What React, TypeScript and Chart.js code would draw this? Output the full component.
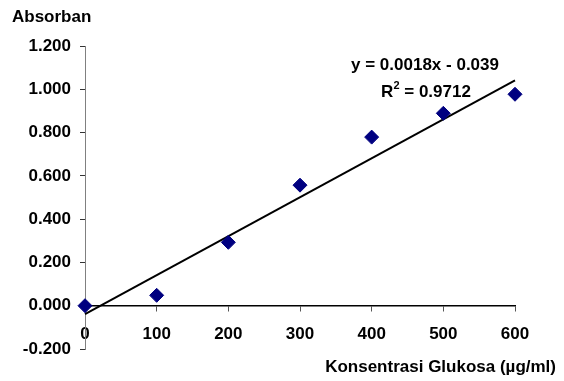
import React, { useEffect, useRef } from "react";
import { Chart, registerables } from "chart.js";

Chart.register(...registerables);

const concentrations = [0, 100, 200, 300, 400, 500, 600];
const absorbances = [0.0, 0.048, 0.293, 0.557, 0.779, 0.889, 0.977];
const trendSlope = 0.0018;
const trendIntercept = -0.039;
const trendX = [0, 600];
const equationText = "y = 0.0018x - 0.039";
const rSquaredText = "0.9712";
const yTitle = "Absorban";
const xTitle = "Konsentrasi Glukosa (µg/ml)";

const FONT = "'Liberation Sans', Arial, sans-serif";
const FS = 17;

const textPlugin = {
  id: "extraText",
  afterDraw(chart: any) {
    const ctx = chart.ctx;
    ctx.save();
    ctx.fillStyle = "#000";
    ctx.font = `bold ${FS}px ${FONT}`;
    ctx.textBaseline = "middle";
    ctx.textAlign = "left";
    ctx.fillText(yTitle, 12, 17);
    ctx.textAlign = "right";
    ctx.fillText(xTitle, 556, 367);
    // equation
    ctx.textAlign = "center";
    ctx.fillText(equationText, 425, 65);
    const rPart = "R";
    const eqPart = " = " + rSquaredText;
    const wR = ctx.measureText(rPart).width;
    ctx.font = `bold 11px ${FONT}`;
    const wSup = ctx.measureText("2").width;
    ctx.font = `bold ${FS}px ${FONT}`;
    const wEq = ctx.measureText(eqPart).width;
    const total = wR + wSup + wEq;
    const x0 = 426 - total / 2;
    ctx.textAlign = "left";
    ctx.fillText(rPart, x0, 92);
    ctx.font = `bold 11px ${FONT}`;
    ctx.fillText("2", x0 + wR, 86);
    ctx.font = `bold ${FS}px ${FONT}`;
    ctx.fillText(eqPart, x0 + wR + wSup, 92);
    ctx.restore();
  },
};

export default function App() {
  const ref = useRef<HTMLCanvasElement | null>(null);
  useEffect(() => {
    if (!ref.current) return;
    const chart = new Chart(ref.current, {
      type: "scatter",
      data: {
        datasets: [
          {
            label: "Trend",
            type: "line",
            data: trendX.map((x) => ({ x, y: trendSlope * x + trendIntercept })),
            borderColor: "#000",
            borderWidth: 2,
            pointRadius: 0,
            fill: false,
            clip: false,
            order: 2,
          } as any,
          {
            label: "Absorban",
            data: concentrations.map((x, i) => ({ x, y: absorbances[i] })),
            pointStyle: "rectRot",
            pointRadius: 7,
            backgroundColor: "#000080",
            borderColor: "#000080",
            borderWidth: 1,
            clip: false,
            order: 1,
          } as any,
        ],
      },
      options: {
        animation: false,
        responsive: false,
        devicePixelRatio: 1,
        layout: { padding: { left: 0, top: 46, right: 49, bottom: 32 } },
        plugins: {
          legend: { display: false },
          tooltip: { enabled: false },
          title: { display: false },
        },
        scales: {
          x: {
            type: "linear",
            position: { y: 0 } as any,
            min: 0,
            max: 600,
            afterFit: (s: any) => {
              s.height = 0;
            },
            ticks: {
              stepSize: 100,
              color: "#000",
              font: { family: FONT, size: FS, weight: "bold" },
              padding: 13,
              maxRotation: 0,
              callback: (v: any) => String(v),
            },
            grid: {
              drawOnChartArea: false,
              drawTicks: true,
              tickLength: 5,
              color: "#555",
            },
            border: { display: true, color: "#000", width: 1.5 },
          },
          y: {
            type: "linear",
            min: -0.2,
            max: 1.2,
            afterFit: (s: any) => {
              s.width = 85;
            },
            ticks: {
              stepSize: 0.2,
              color: "#000",
              font: { family: FONT, size: FS, weight: "bold" },
              padding: 9,
              callback: (v: any) => {
                const n = Math.abs(Number(v)) < 1e-9 ? 0 : Number(v);
                return n.toFixed(3);
              },
            },
            grid: {
              drawOnChartArea: false,
              drawTicks: true,
              tickLength: 5,
              color: "#333",
            },
            border: { display: true, color: "#808080", width: 1 },
          },
        },
      },
      plugins: [textPlugin],
    });
    return () => chart.destroy();
  }, []);
  return (
    <div style={{ position: "fixed", left: 0, top: 0, width: 564, height: 381, background: "#fff" }}>
      <canvas ref={ref} width={564} height={381} style={{ width: 564, height: 381 }} />
    </div>
  );
}
